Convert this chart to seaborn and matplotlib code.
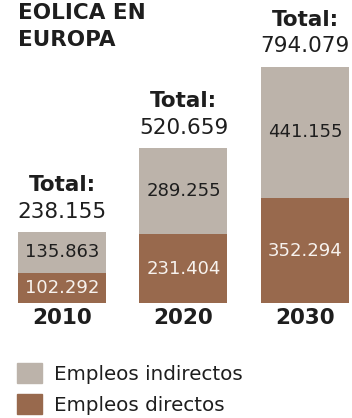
import matplotlib
matplotlib.use("Agg")
import matplotlib.pyplot as plt
import seaborn as sns
from matplotlib.patches import Patch

# data
years = ["2010", "2020", "2030"]
directos = [102292, 231404, 352294]
indirectos = [135863, 289255, 441155]
totales = [238155, 520659, 794079]

gris = "#bcb3aa"
marron = "#98694d"
oscuro = "#1e1e1e"

def fmt(v):
    return f"{v:,}".replace(",", ".")

sns.set_style("white")
plt.rcParams["font.family"] = ["DejaVu Sans"]

fig = plt.figure(figsize=(3.52, 4.18), dpi=100)
ax = fig.add_axes([0, 115 / 418, 1, 303 / 418])

stack = [d + i for d, i in zip(directos, indirectos)]
sns.barplot(x=years, y=stack, color=gris, width=0.724, saturation=1, linewidth=0, ax=ax)
sns.barplot(x=years, y=directos, color=marron, width=0.724, saturation=1, linewidth=0, ax=ax)

for k in range(len(years)):
    ax.text(k, directos[k] / 2, fmt(directos[k]), ha="center", va="center",
            fontsize=13, color="#f7f2ee")
    ax.text(k, directos[k] + indirectos[k] / 2, fmt(indirectos[k]), ha="center", va="center",
            fontsize=13, color=oscuro)
    ax.annotate(fmt(totales[k]), (k, stack[k]), xytext=(0, 14.5), textcoords="offset points",
                ha="center", va="center", fontsize=15.5, color=oscuro)
    ax.annotate("Total:", (k, stack[k]), xytext=(0, 33.5), textcoords="offset points",
                ha="center", va="center", fontsize=15.5, fontweight="bold", color=oscuro)

ax.set_xlim(-0.51, 2.387)
ax.set_ylim(0, 1016700)
ax.set_yticks([])
ax.set_xticks(range(len(years)))
ax.set_xticklabels(years, fontsize=15.5, fontweight="bold", color=oscuro)
ax.tick_params(axis="x", length=0, pad=3.5)
ax.set_xlabel("")
ax.set_ylabel("")
sns.despine(ax=ax, left=True, bottom=True)

fig.text(18 / 352, 1 - 3 / 418, "EOLICA EN\nEUROPA", ha="left", va="top",
         fontsize=15.5, fontweight="bold", color=oscuro, linespacing=1.45)

handles = [Patch(color=gris, label="Empleos indirectos"),
           Patch(color=marron, label="Empleos directos")]
fig.legend(handles=handles, loc="upper left", bbox_to_anchor=(7 / 352, 1 - 353 / 418),
           frameon=False, fontsize=14.3, handlelength=1.25, handleheight=1.2,
           handletextpad=0.6, labelspacing=0.5, borderpad=0, labelcolor=oscuro)

fig.savefig("out.png", dpi=100)
